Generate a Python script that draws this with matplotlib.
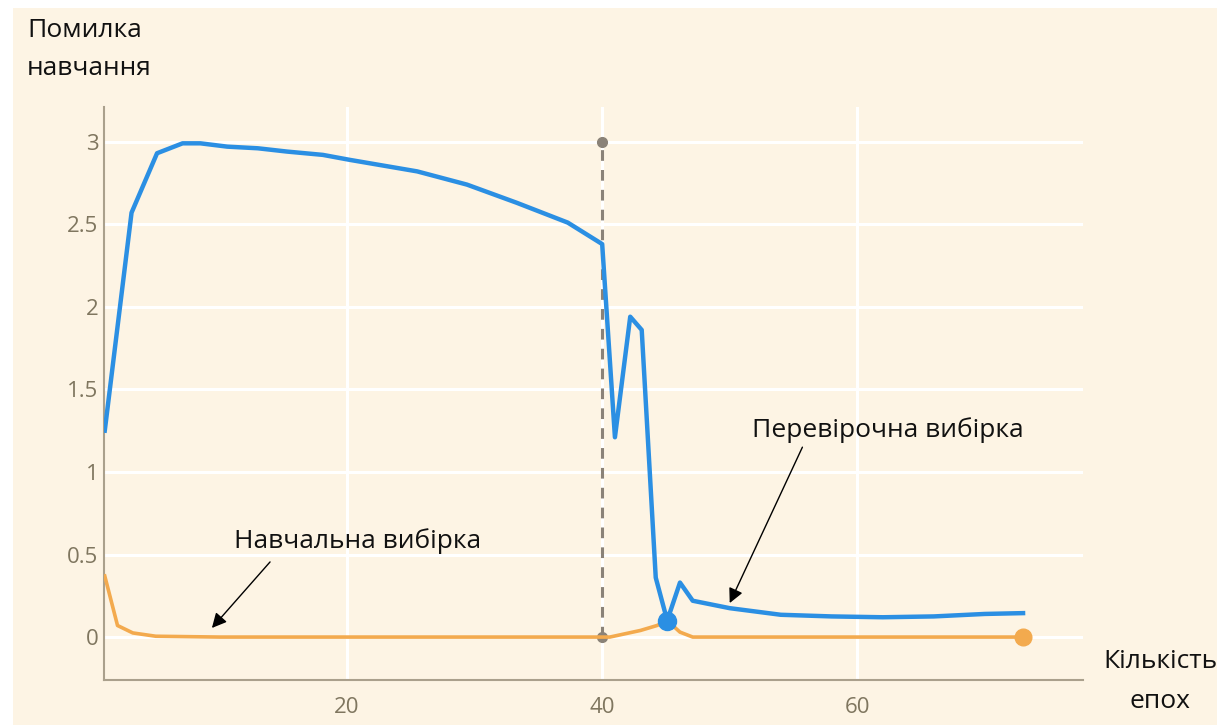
import numpy as np
import matplotlib
matplotlib.use('Agg')
from matplotlib import pyplot as plt
from matplotlib.patches import Rectangle

plt.rcParams['font.family'] = ['Open Sans', 'DejaVu Sans']

# validation loss (blue)
val_epochs = [1, 3.1, 5.1, 7.1, 8.5, 10.6, 13, 15.3, 18.1, 20.2, 25.5, 29.4, 33.3, 37.3, 40,
              41, 42.2, 43.1, 44.2, 45.1, 46.1, 47.1, 50, 54, 58, 62, 66, 70, 73]
val_loss = [1.25, 2.57, 2.93, 2.99, 2.99, 2.97, 2.96, 2.94, 2.92, 2.89, 2.82, 2.74, 2.63, 2.51, 2.38,
            1.21, 1.94, 1.86, 0.36, 0.10, 0.33, 0.22, 0.175, 0.135, 0.125, 0.12, 0.125, 0.14, 0.145]

# training loss (orange)
train_epochs = [1, 2, 3.2, 5, 10, 40.6, 43, 44.3, 45.1, 46.1, 47.1, 73]
train_loss = [0.37, 0.07, 0.025, 0.005, 0, 0, 0.04, 0.07, 0.10, 0.03, 0, 0]

best_epoch = 40
best_marker = (45.1, 0.10)
end_marker = (73, 0)

xticks = [20, 40, 60]
yticks = [0, 0.5, 1, 1.5, 2, 2.5, 3]
ytick_labels = ['0', '0.5', '1', '1.5', '2', '2.5', '3']

cream = '#fdf4e4'
blue = '#2b8fe3'
orange = '#f3aa4e'
gray = '#8a8278'
tickc = '#7f765f'
txt = '#111111'

W, H = 1217, 725
fig = plt.figure(figsize=(W / 100, H / 100), dpi=100)
fig.patch.set_facecolor('white')
fig.patches.append(Rectangle((13 / W, 0), 1, 1 - 8 / H, transform=fig.transFigure,
                             facecolor=cream, edgecolor='none', zorder=-10))

ax = fig.add_axes([104 / W, 1 - 680 / H, (1083 - 104) / W, (680 - 107) / H])
ax.set_facecolor(cream)
ax.set_xlim(0.94, 77.7)
ax.set_ylim(-0.26, 3.21)

ax.set_xticks(xticks)
ax.set_yticks(yticks)
ax.set_yticklabels(ytick_labels)
ax.tick_params(length=0, colors=tickc, labelsize=16)
ax.tick_params(axis='x', pad=12)
ax.tick_params(axis='y', pad=4)
ax.grid(True, color='white', lw=2.2)
ax.set_axisbelow(True)
for s in ['top', 'right']:
    ax.spines[s].set_visible(False)
for s in ['left', 'bottom']:
    ax.spines[s].set_color('#aaa08c')
    ax.spines[s].set_linewidth(1.5)

# early-stopping marker
ax.plot([best_epoch, best_epoch], [0, 3], color=gray, lw=2.2, dashes=(3.5, 3), zorder=2)
ax.plot([best_epoch, best_epoch], [0, 3], 'o', color=gray, ms=7, zorder=2)

ax.plot(train_epochs, train_loss, color=orange, lw=2.6, zorder=3)
ax.plot(val_epochs, val_loss, color=blue, lw=3.2, zorder=4)
ax.plot(*best_marker, 'o', color=blue, ms=13, zorder=5)
ax.plot(*end_marker, 'o', color=orange, ms=12, zorder=5)

arrow = dict(arrowstyle='-|>', color='black', lw=1, mutation_scale=22, shrinkA=0, shrinkB=0)
ax.annotate('', xy=(9.4, 0.055), xytext=(13.96, 0.455), arrowprops=arrow)
ax.annotate('', xy=(50.0, 0.206), xytext=(55.7, 1.15), arrowprops=arrow)

ax.text(20.8, 0.54, 'Навчальна вибірка', fontsize=19, ha='center', va='baseline', color=txt)
ax.text(62.4, 1.21, 'Перевірочна вибірка', fontsize=19, ha='center', va='baseline', color=txt)

fig.text(27 / W, 1 - 37 / H, 'Помилка', fontsize=19, ha='left', va='baseline', color=txt)
fig.text(27 / W, 1 - 75 / H, 'навчання', fontsize=19, ha='left', va='baseline', color=txt)
fig.text(1160 / W, 1 - 668 / H, 'Кількість', fontsize=19, ha='center', va='baseline', color=txt)
fig.text(1160 / W, 1 - 708 / H, 'епох', fontsize=19, ha='center', va='baseline', color=txt)

plt.savefig('out.png', dpi=100, facecolor=fig.get_facecolor())
